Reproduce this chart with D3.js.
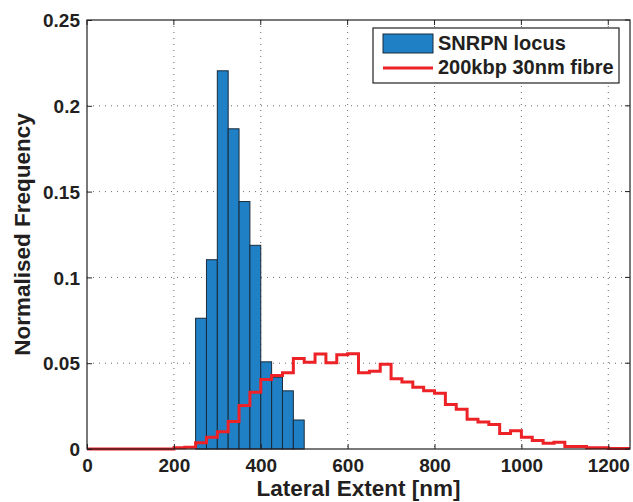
<!DOCTYPE html>
<html>
<head>
<meta charset="utf-8">
<script src="https://cdn.jsdelivr.net/npm/d3@7"></script>
<style>
  html, body { margin: 0; padding: 0; background: #fff; overflow: hidden; }
  svg { display: block; }
  text { font-family: "Liberation Sans", Arial, sans-serif; font-weight: bold; fill: #231f20; }
  .tick-label { font-size: 19px; }
  .axis-title { font-size: 22.5px; }
  .legend-label { font-size: 20px; }
</style>
</head>
<body>
<div id="chart"></div>
<script>
// SNRPN locus histogram (bin left edges, 25 nm wide)
const locusBins = [250, 275, 300, 325, 350, 375, 400, 425, 450, 475];
const locusFreq = [0.0762, 0.1103, 0.2204, 0.1866, 0.1442, 0.1187, 0.0508, 0.0418, 0.0339, 0.0169];

// 200kbp 30nm fibre step histogram (bin left edges)
const fibreBins = [0, 200, 225, 250, 275, 300, 325, 350, 375, 400, 425, 450, 475, 500, 525, 550, 575,
  600, 625, 650, 675, 700, 725, 750, 775, 800, 825, 850, 875, 900, 925, 950, 975, 1000, 1025,
  1050, 1075, 1100, 1125, 1150, 1175, 1200, 1225, 1250];
const fibreFreq = [0, 0.0008, 0.0010, 0.0037, 0.0068, 0.0101, 0.0160, 0.0253, 0.0331, 0.0405, 0.0428,
  0.0444, 0.0527, 0.0506, 0.0553, 0.0502, 0.0549, 0.0555, 0.0444, 0.0453, 0.0494, 0.0409, 0.0391,
  0.0360, 0.0340, 0.0325, 0.0259, 0.0231, 0.0173, 0.0157, 0.0143, 0.0090, 0.0107, 0.0068, 0.0050,
  0.0033, 0.0039, 0.0015, 0.0015, 0.0008, 0.0008, 0.0003, 0.0003, 0.0003];

const binWidth = 25;
const xTicks = [0, 200, 400, 600, 800, 1000, 1200];
const yTicks = [0, 0.05, 0.1, 0.15, 0.2, 0.25];
const seriesNames = ["SNRPN locus", "200kbp 30nm fibre"];

const width = 633, height = 502;
const margin = { top: 20, right: 3, bottom: 53, left: 87 };
const innerWidth = width - margin.left - margin.right;
const innerHeight = height - margin.top - margin.bottom;

const svg = d3.select("#chart")
  .append("svg")
  .attr("width", width)
  .attr("height", height);

const inner = svg.append("g")
  .attr("transform", `translate(${margin.left},${margin.top})`);

const xScale = d3.scaleLinear().domain([0, 1250]).range([0, innerWidth]);
const yScale = d3.scaleLinear().domain([0, 0.25]).range([innerHeight, 0]);

// Dotted grid
inner.append("g")
  .selectAll("line")
  .data(xTicks.slice(1))
  .join("line")
  .attr("x1", d => xScale(d)).attr("x2", d => xScale(d))
  .attr("y1", 0).attr("y2", innerHeight)
  .attr("stroke", "#444").attr("stroke-width", 0.8)
  .attr("stroke-dasharray", "1,5");

inner.append("g")
  .selectAll("line")
  .data(yTicks.slice(1, -1))
  .join("line")
  .attr("x1", 0).attr("x2", innerWidth)
  .attr("y1", d => yScale(d)).attr("y2", d => yScale(d))
  .attr("stroke", "#444").attr("stroke-width", 0.8)
  .attr("stroke-dasharray", "1,5");

// Locus bars
inner.append("g")
  .selectAll("rect")
  .data(locusBins.map((b, i) => ({ x0: b, v: locusFreq[i] })))
  .join("rect")
  .attr("x", d => xScale(d.x0))
  .attr("y", d => yScale(d.v))
  .attr("width", d => xScale(d.x0 + binWidth) - xScale(d.x0))
  .attr("height", d => yScale(0) - yScale(d.v))
  .attr("fill", "#1f80c6")
  .attr("stroke", "#1a2a3a")
  .attr("stroke-width", 1);

// Fibre step line
const fibreLine = d3.line()
  .x(d => xScale(d[0]))
  .y(d => yScale(d[1]))
  .curve(d3.curveStepAfter);

inner.append("path")
  .datum(fibreBins.map((b, i) => [b, fibreFreq[i]]))
  .attr("d", fibreLine)
  .attr("fill", "none")
  .attr("stroke", "#ec2227")
  .attr("stroke-width", 3);

// Axes (MATLAB style box with inward ticks)
const tickLen = 5;
const bottomAxis = d3.axisBottom(xScale).tickValues(xTicks).tickFormat(d3.format("d"))
  .tickSizeInner(-tickLen).tickSizeOuter(0).tickPadding(8);
const leftAxis = d3.axisLeft(yScale).tickValues(yTicks).tickFormat(d => String(d))
  .tickSizeInner(-tickLen).tickSizeOuter(0).tickPadding(7);

const gx = inner.append("g")
  .attr("transform", `translate(0,${innerHeight})`)
  .call(bottomAxis);
const gy = inner.append("g").call(leftAxis);

[gx, gy].forEach(g => {
  g.select(".domain").remove();
  g.selectAll(".tick line").attr("stroke", "#231f20");
  g.selectAll(".tick text").attr("class", "tick-label").attr("fill", "#231f20");
});
gx.selectAll(".tick text").attr("dy", "0.8em");
gy.selectAll(".tick text").attr("dy", "0.35em");

// top and right ticks
inner.append("g")
  .selectAll("line")
  .data(xTicks)
  .join("line")
  .attr("x1", d => xScale(d)).attr("x2", d => xScale(d))
  .attr("y1", 0).attr("y2", tickLen)
  .attr("stroke", "#231f20");
inner.append("g")
  .selectAll("line")
  .data(yTicks)
  .join("line")
  .attr("x1", innerWidth).attr("x2", innerWidth - tickLen)
  .attr("y1", d => yScale(d)).attr("y2", d => yScale(d))
  .attr("stroke", "#231f20");

inner.append("rect")
  .attr("width", innerWidth)
  .attr("height", innerHeight)
  .attr("fill", "none")
  .attr("stroke", "#231f20")
  .attr("stroke-width", 1.2);

// Axis titles
svg.append("text")
  .attr("class", "axis-title")
  .attr("x", margin.left + innerWidth / 2)
  .attr("y", 496)
  .attr("text-anchor", "middle")
  .text("Lateral Extent [nm]");

svg.append("text")
  .attr("class", "axis-title")
  .attr("transform", `translate(30,${margin.top + innerHeight / 2}) rotate(-90)`)
  .attr("text-anchor", "middle")
  .text("Normalised Frequency");

// Legend
const legend = svg.append("g").attr("transform", "translate(373,28)");
legend.append("rect")
  .attr("width", 246).attr("height", 55)
  .attr("fill", "#fff").attr("stroke", "#231f20").attr("stroke-width", 1.2);
legend.append("rect")
  .attr("x", 10).attr("y", 6).attr("width", 50).attr("height", 19)
  .attr("fill", "#1f80c6").attr("stroke", "#1a2a3a");
legend.append("line")
  .attr("x1", 10).attr("x2", 60).attr("y1", 40).attr("y2", 40)
  .attr("stroke", "#ec2227").attr("stroke-width", 3);
seriesNames.forEach((name, i) => {
  legend.append("text")
    .attr("class", "legend-label")
    .attr("x", 65)
    .attr("y", 22 + i * 24)
    .text(name);
});
</script>
</body>
</html>
